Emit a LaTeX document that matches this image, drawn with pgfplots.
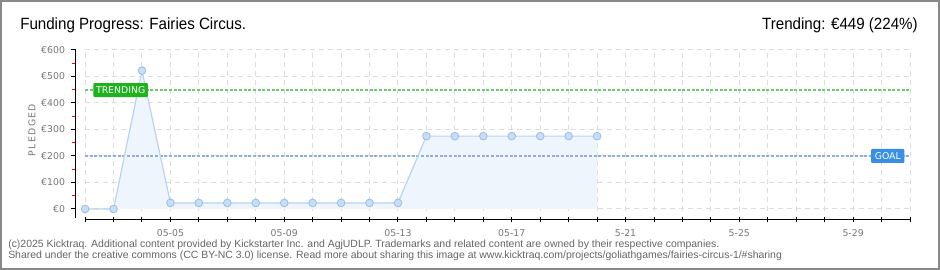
\documentclass[border=0pt]{standalone}
\usepackage{pgfplots}
\pgfplotsset{compat=1.18}
\usepackage{fontspec}
\setmainfont{Liberation Sans}
\newfontfamily\titlefont[FakeStretch=0.93]{Liberation Sans}
\newfontfamily\tickfont{DejaVu Sans}
\newfontfamily\spacedfont[LetterSpace=14]{DejaVu Sans}
\definecolor{lineblue}{HTML}{B8D4F0}
\definecolor{fillblue}{HTML}{EEF5FD}
\definecolor{markfill}{HTML}{C6DEF8}
\definecolor{markdraw}{HTML}{9DBDE0}
\definecolor{trendgreen}{HTML}{6CCB6C}
\definecolor{trendbox}{HTML}{1DB31D}
\definecolor{goalblue}{HTML}{8FB0D8}
\definecolor{goalbox}{HTML}{3A8EE6}
\definecolor{gridgrey}{HTML}{DDDDDD}
\definecolor{ticktext}{HTML}{777777}
\definecolor{foottext}{HTML}{666666}
\definecolor{borderg}{HTML}{888888}
\begin{document}
\begin{tikzpicture}
% frame
\fill[white] (0,0) rectangle (705pt,202.5pt);
\draw[borderg,line width=1.2pt] (0.6pt,0.6pt) rectangle (704.4pt,201.9pt);
% titles
\node[anchor=base west,inner sep=0pt] at (15pt,180pt) {\titlefont\fontsize{12.2}{14}\selectfont Funding Progress: Fairies Circus.};
\node[anchor=base east,inner sep=0pt] at (688.5pt,180pt) {\titlefont\fontsize{12.2}{14}\selectfont Trending: €449 (224\%)};
% footer
\node[anchor=base west,inner sep=0pt,text=foottext] at (6pt,16.5pt) {\fontsize{7.85}{9}\selectfont (c)2025 Kicktraq. Additional content provided by Kickstarter Inc. and AgjUDLP. Trademarks and related content are owned by their respective companies.};
\node[anchor=base west,inner sep=0pt,text=foottext] at (6pt,8.25pt) {\fontsize{7.85}{9}\selectfont Shared under the creative commons (CC BY-NC 3.0) license. Read more about sharing this image at www.kicktraq.com/projects/goliathgames/fairies-circus-1/\#sharing};
% y label
\node[rotate=90,text=ticktext,inner sep=0pt] at (24pt,105pt) {\spacedfont\fontsize{7}{8}\selectfont PLEDGED};
\begin{axis}[
  at={(57pt,37.5pt)}, anchor=south west,
  scale only axis, width=625.5pt, height=127.5pt,
  xmin=-0.32, xmax=29, ymin=-41.5, ymax=600,
  axis line style={draw=none},
  xtick pos=left, ytick pos=left,
  xtick={0,...,29},
  xticklabels={,,,05-05,,,,05-09,,,,05-13,,,,05-17,,,,5-21,,,,5-25,,,,5-29,,},
  xtick align=center,
  ytick={0,100,...,600},
  yticklabels={€0,€100,€200,€300,€400,€500,€600},
  ytick align=outside,
  minor ytick={50,150,...,550},
  major tick length=3.75pt,
  minor tick length=3pt,
  every major tick/.style={black,line width=0.75pt},
  every minor tick/.style={red,line width=0.75pt},
  tick label style={font=\tickfont\fontsize{7}{8}\selectfont,text=ticktext},
  xticklabel style={yshift=-1.5pt},
  yticklabel style={xshift=-1pt},
  clip=false,
]
% grid
\pgfplotsinvokeforeach{0,...,29}{
  \draw[gridgrey,line width=0.75pt,dash pattern=on 3.75pt off 3pt] (axis cs:#1,-8) -- (axis cs:#1,600);
}
\pgfplotsinvokeforeach{0,100,...,600}{
  \draw[gridgrey,line width=0.75pt,dash pattern=on 3.75pt off 3pt] (axis cs:0,#1) -- (axis cs:29,#1);
}
% axis lines
\draw[black,line width=0.75pt] (axis cs:0,-41.5) -- (axis cs:29,-41.5);
\draw[black,line width=0.75pt] (axis cs:-0.32,600) -- (axis cs:-0.32,-34);
% area
\addplot[fill=fillblue,draw=none] coordinates {
(0,0)(1,0)(2,522)(3,23)(4,23)(5,23)(6,23)(7,23)(8,23)(9,23)(10,23)(11,23)
(12,275)(13,275)(14,275)(15,275)(16,275)(17,275)(18,275)} \closedcycle;
% goal & trending lines
\addplot[goalblue,line width=2.1pt,dash pattern=on 2.2pt off 1.3pt] coordinates {(0,200)(29,200)};
\addplot[trendgreen,line width=2.1pt,dash pattern=on 2.2pt off 1.3pt] coordinates {(0,449)(29,449)};
% series
\addplot[lineblue,line width=0.9pt,mark=*,mark size=2.9pt,
  mark options={fill=markfill,draw=markdraw,line width=0.6pt}] coordinates {
(0,0)(1,0)(2,522)(3,23)(4,23)(5,23)(6,23)(7,23)(8,23)(9,23)(10,23)(11,23)
(12,275)(13,275)(14,275)(15,275)(16,275)(17,275)(18,275)};
% labels
\node[fill=trendbox,text=white,minimum width=41pt,minimum height=10.5pt,inner sep=0pt,rounded corners=0.8pt,font=\tickfont\fontsize{7}{8}\selectfont] at (axis cs:1.25,449) {TRENDING};
\node[fill=goalbox,text=white,minimum width=25pt,minimum height=10.5pt,inner sep=0pt,rounded corners=0.8pt,font=\tickfont\fontsize{7}{8}\selectfont] at (axis cs:28.22,200) {GOAL};
\end{axis}
\end{tikzpicture}
\end{document}
